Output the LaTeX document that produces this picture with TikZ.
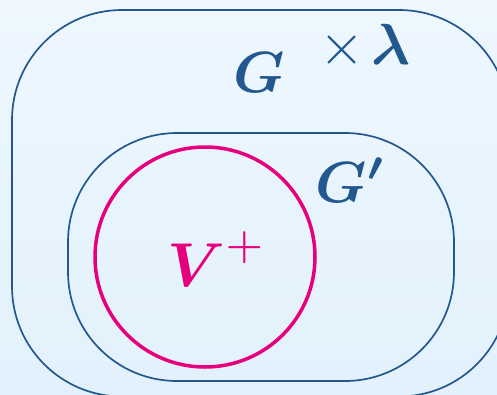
\documentclass[tikz,border=0pt]{standalone}
\usepackage{amsmath}
\definecolor{setblue}{RGB}{35,88,142}
\definecolor{setmag}{RGB}{230,0,126}
\definecolor{bgtop}{RGB}{238,247,254}
\definecolor{bgbot}{RGB}{226,241,252}
\tikzset{
  setline/.style={draw=setblue, line width=1.7pt},
  circline/.style={draw=setmag, line width=3.5pt},
  bluelabel/.style={text=setblue, inner sep=0pt, anchor=base, scale=5.8},
  maglabel/.style={text=setmag, inner sep=0pt, anchor=base, scale=6.2},
}
\begin{document}
\begin{tikzpicture}[x=1pt,y=-1pt]
  \shade[top color=bgtop, bottom color=bgbot] (0,0) rectangle (497,394);
  \useasboundingbox (0,0) rectangle (497,394);
  \clip (0,0) rectangle (497,394);
  % outer set G
  \draw[setline, rounded corners=110pt] (12,10) rectangle (509,396.5);
  % inner set G'
  \draw[setline, rounded corners=109pt] (68,133) rectangle (454,381);
  % V+ circle
  \draw[circline] (205,257) circle[radius=110];
  % labels
  \node[bluelabel] (g) at (259,92) {$\boldsymbol{G}$};
  \node[bluelabel] (times) at (342.5,64) {$\times$};
  \node[bluelabel] (lam) at (391,64) {$\boldsymbol{\lambda}$};
  \node[bluelabel] (gp) at (351,202) {$\boldsymbol{G'}$};
  \node[maglabel] (vp) at (217,286) {$\boldsymbol{V}^{+}$};
\end{tikzpicture}
\end{document}
